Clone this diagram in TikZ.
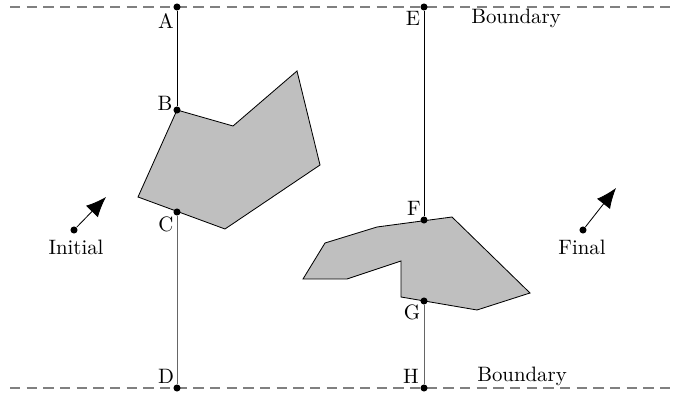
\documentclass[tikz,border=0pt]{standalone}
\usepackage{xcolor}
\usepackage{tikz}
\usetikzlibrary{arrows.meta,positioning}

\begin{document}
\begin{tikzpicture}[
  x=0.48pt, y=-0.48pt,
  pt/.style={circle, fill, inner sep=0pt, minimum size=3.4pt},
  bound/.style={gray, semithick, dash pattern=on 5pt off 3pt},
  obst/.style={draw, fill=black!25, line join=miter},
  lbl/.style={font=\normalsize},
  mv/.style={-{Latex[length=3.4mm, width=2.8mm]}}
]
\useasboundingbox (0,0) rectangle (683,399);
% boundaries
\draw[bound] (10,7) -- (675,7);
\draw[bound] (10,388) -- (672,388);
% obstacles
\draw[obst] (177,110) -- (233,126) -- (297,71) -- (320,165) -- (225,229)
  -- (138,197) -- cycle;
\draw[obst] (452,217) -- (530,293) -- (477,310) -- (401,297) -- (401,261)
  -- (347,279) -- (303,279) -- (325,243) -- (377,227) -- cycle;
% points
\node[pt] (A) at (177,7)   {};
\node[pt] (B) at (177,110) {};
\node[pt] (C) at (177,212) {};
\node[pt] (D) at (177,388) {};
\node[pt] (E) at (424,7)   {};
\node[pt] (F) at (424,220) {};
\node[pt] (G) at (424,301) {};
\node[pt] (H) at (424,388) {};
\node[lbl] at (166,21)  {A};
\node[lbl] at (165,103) {B};
\node[lbl] at (166,224) {C};
\node[lbl] at (166,376) {D};
\node[lbl] at (413,18)  {E};
\node[lbl] at (414,208) {F};
\node[lbl] at (412,312) {G};
\node[lbl] at (411,376) {H};
\node[lbl] (bt) at (516,18)  {Boundary};
\node[lbl] (bb) at (522,376) {Boundary};
% segments
\draw (A) -- (B);
\draw[black!60] (C) -- (D);
\draw (E) -- (F);
\draw[black!60] (G) -- (H);
% directions
\node[pt] (ini) at (74,230) {};
\coordinate (initip) at (106,197);
\draw[mv] (ini) -- (initip);
\node[lbl] at (76,247) {Initial};
\node[pt] (fin) at (583,230) {};
\coordinate (fintip) at (616,188);
\draw[mv] (fin) -- (fintip);
\node[lbl] at (582,247) {Final};
\end{tikzpicture}
\end{document}
